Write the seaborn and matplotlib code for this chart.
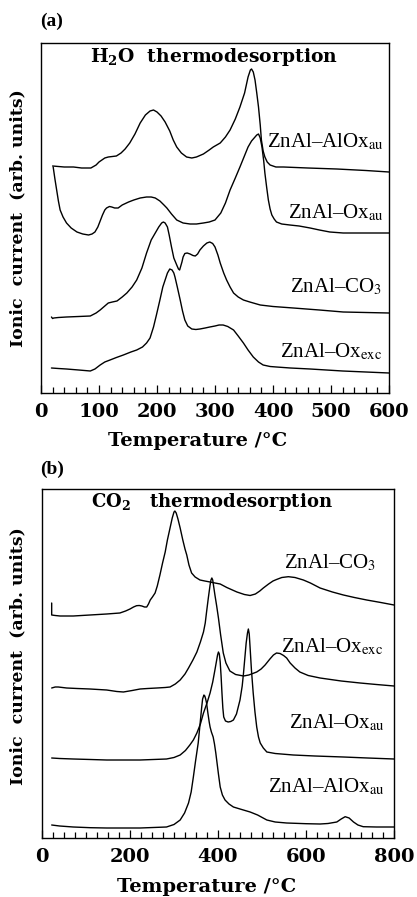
import numpy as np
import pandas as pd
import matplotlib
matplotlib.use("Agg")
import matplotlib.pyplot as plt
import seaborn as sns
from matplotlib.ticker import MultipleLocator

# ---------------- Panel (a): H2O thermodesorption ----------------
a_alox_au_T = [20, 40, 56, 70, 86, 95, 100, 105, 110, 116, 123, 130, 138, 145, 153, 162, 171,
               180, 188, 194, 200, 207, 214, 222, 228, 234, 242, 251, 260, 268, 280, 290, 297,
               303, 309, 318, 326, 335, 343, 351, 357, 361, 363, 366, 369, 372, 375, 378, 380,
               383, 386, 390, 395, 405, 418, 460, 510, 560, 600]
a_alox_au_I = [227, 226, 226, 225, 225, 228, 231, 233, 235, 236, 236.5, 237, 240, 244, 250, 259,
               270, 278, 282, 283, 281, 277, 271, 262, 253, 246, 240, 236, 235, 236, 239, 243,
               246, 248, 250, 256, 263, 274, 286, 300, 316, 323, 324, 321, 313, 300, 286, 268,
               253, 242, 236, 231, 228, 226, 226, 225, 224, 222.5, 221]

a_ox_au_T = [21, 24, 27, 30, 33, 38, 44, 52, 62, 72, 82, 88, 93, 98, 102, 106, 110, 113, 118,
             122, 127, 133, 140, 151, 160, 171, 182, 190, 197, 205, 212, 217, 225, 234, 245,
             257, 268, 280, 290, 300, 310, 318, 326, 335, 343, 350, 357, 363, 369, 372, 375,
             378, 381, 384, 386, 389, 392, 395, 398, 402, 406, 415, 429, 445, 464, 480, 498,
             521, 560, 600]
a_ox_au_I = [226, 214, 203, 192, 183, 176, 170, 165, 161, 159, 158, 159, 161, 166, 172, 178,
             183, 185, 186.5, 186, 185, 185, 188, 191, 193, 195, 196, 196, 195, 192, 188, 185,
             179, 173, 170, 169, 169, 170, 171, 173, 180, 190, 203, 215, 226, 236, 246, 252,
             256, 258, 259, 255, 246, 232, 220, 206, 193, 184, 178, 174, 171, 169, 168, 167,
             165, 163, 161, 160, 160, 160]

a_co3_T = [18, 20, 22, 30, 44, 65, 85, 95, 102, 110, 116, 123, 131, 140, 148, 157, 165, 174,
           182, 190, 197, 203, 208, 211, 214, 218, 221, 225, 229, 234, 237, 239, 241, 243,
           245, 248, 252, 257, 262, 266, 270, 274, 280, 286, 291, 296, 300, 305, 309, 315,
           320, 326, 332, 340, 349, 360, 378, 400, 435, 480, 521, 560, 600]
a_co3_I = [76, 74.5, 75, 75.5, 76, 76.5, 77, 80, 83, 87, 90, 91, 92, 96, 100, 106, 113, 125,
           140, 153, 160, 166, 170, 171, 170, 166, 158, 146, 135, 128, 124, 123, 127, 131,
           136, 139.5, 140, 139, 137.5, 137, 139, 143, 147, 150, 151, 149.5, 146, 138, 130,
           120, 113, 106, 100, 96, 93, 91, 88, 86.5, 85, 83, 81, 80.5, 80]

a_ox_exc_T = [18, 30, 44, 65, 85, 93, 102, 110, 119, 130, 142, 155, 165, 175, 182, 188, 194,
              199, 205, 210, 214, 218, 222, 226, 229, 231, 235, 240, 244, 248, 253, 260, 267,
              274, 283, 291, 300, 307, 314, 322, 332, 340, 349, 357, 366, 375, 383, 395, 406,
              430, 464, 520, 560, 600]
a_ox_exc_I = [25, 24.5, 24, 23, 22, 24, 28, 31, 33, 35.5, 38, 41, 43, 46, 50, 55, 66, 78, 93,
              106, 113, 120, 124, 123, 120, 116, 106, 93, 82, 73, 67, 64, 63.5, 64, 65, 66,
              67, 68, 68, 66.5, 63, 57, 50, 43, 36, 31, 28, 26.5, 26, 25, 24, 22, 21, 20]

# ---------------- Panel (b): CO2 thermodesorption ----------------
b_co3_T = [22, 22, 30, 41, 71, 109, 147, 177, 190, 200, 208, 215, 221, 227, 233, 238, 242,
           246, 251, 257, 262, 268, 274, 280, 285, 291, 296, 300, 302, 305, 309, 314, 320,
           325, 329, 334, 340, 348, 359, 370, 382, 393, 405, 420, 443, 460, 473, 485, 495,
           503, 515, 525, 533, 545, 560, 575, 594, 610, 632, 660, 685, 710, 738, 770, 800]
b_co3_I = [235, 223, 222.5, 222, 222, 223, 224, 225, 227, 229, 231, 232.3, 232.5, 232, 231,
           231, 234, 238, 241, 245, 252, 263, 275, 286, 298, 310, 320, 326, 327, 325, 319,
           310, 298, 289, 283, 273, 265, 261, 258, 257, 256, 255, 254, 250.5, 246, 243.5,
           242.5, 244, 247, 250, 254, 257, 258.5, 260.5, 261.3, 260.5, 258, 255, 250, 246,
           243, 240.5, 238, 235.5, 233]

b_ox_exc_T = [22, 30, 37, 56, 80, 109, 147, 170, 185, 205, 223, 240, 261, 280, 291, 303, 314,
              325, 333, 343, 352, 360, 367, 371, 374, 378, 382, 384, 386, 388, 390, 393, 397,
              401, 406, 412, 418, 427, 440, 458, 470, 488, 498, 507, 518, 526, 533, 541, 549,
              556, 564, 575, 586, 605, 632, 680, 723, 760, 800]
b_ox_exc_I = [150, 151, 151, 150, 149.5, 149, 148, 146.5, 146, 147.5, 149, 149.5, 150, 150.5,
              151, 154, 158, 164, 170, 178, 186, 196, 206, 215, 226, 240, 253, 258, 260, 258,
              252, 243, 232, 220, 203, 185, 175, 167, 163.5, 162, 163, 166, 169, 173, 179,
              183, 185, 184.5, 182.5, 180, 175, 170, 166, 162.5, 160, 157, 155, 153.5, 152]

b_ox_au_T = [22, 40, 71, 110, 147, 223, 283, 300, 314, 326, 336, 344, 352, 360, 367, 375, 382,
             388, 393, 397, 399, 401, 403, 405, 407, 409, 411, 413, 417, 423, 429, 435, 442,
             450, 455, 458, 461, 464, 467, 469, 471, 473, 476, 480, 484, 488, 492, 496, 503,
             511, 530, 571, 620, 685, 740, 800]
b_ox_au_I = [80, 79.5, 79, 78.5, 78, 78, 79, 80.5, 83, 87.5, 93, 98, 105, 114, 125, 135, 145,
             156, 168, 178, 183, 186, 184, 176, 162, 145, 130, 121, 117, 116, 116.5, 118, 124,
             138, 152, 165, 180, 195, 205, 209, 204, 190, 168, 145, 126, 111, 101, 95, 90, 86,
             84.5, 83, 82, 81, 80, 79]

b_alox_au_T = [22, 40, 71, 110, 147, 223, 283, 300, 314, 324, 333, 339, 344, 349, 355, 359,
               363, 365, 368, 370, 372, 374, 377, 380, 382, 385, 389, 392, 395, 397, 401, 405,
               410, 416, 425, 435, 450, 473, 490, 511, 530, 556, 600, 632, 650, 670, 680, 689,
               698, 708, 718, 730, 760, 800]
b_alox_au_I = [13, 12, 11, 10.3, 10, 10, 11, 13.5, 18, 25, 35, 46, 61, 77, 95, 113, 131, 139,
               143, 142, 139, 135, 125, 116, 111, 106, 101, 94, 85, 78, 64, 51, 43, 38, 34, 31,
               29, 26, 23, 18, 16, 15, 14.3, 14, 14.5, 16, 19, 21.3, 20, 16, 13, 11.3, 11, 11]

a_names = ["ZnAl–AlOx_au", "ZnAl–Ox_au", "ZnAl–CO3", "ZnAl–Ox_exc"]
b_names = ["ZnAl–CO3", "ZnAl–Ox_exc", "ZnAl–Ox_au", "ZnAl–AlOx_au"]


def build(names, Ts, Is):
    frames = []
    for n, t, i in zip(names, Ts, Is):
        frames.append(pd.DataFrame({"T": t, "I": i, "sample": n}))
    return pd.concat(frames, ignore_index=True)


df_a = build(a_names, [a_alox_au_T, a_ox_au_T, a_co3_T, a_ox_exc_T],
             [a_alox_au_I, a_ox_au_I, a_co3_I, a_ox_exc_I])
df_b = build(b_names, [b_co3_T, b_ox_exc_T, b_ox_au_T, b_alox_au_T],
             [b_co3_I, b_ox_exc_I, b_ox_au_I, b_alox_au_I])

sns.set_theme(style="white")
plt.rcParams["font.family"] = ["DejaVu Serif", "DejaVu Sans"]
plt.rcParams["text.color"] = "black"
plt.rcParams["axes.labelcolor"] = "black"
plt.rcParams["xtick.color"] = "black"
plt.rcParams["ytick.color"] = "black"

fig = plt.figure(figsize=(4.17, 8.97), dpi=100)
ax_a = fig.add_axes([41 / 417, 1 - 393 / 897, 348 / 417, 350 / 897])
ax_b = fig.add_axes([42 / 417, 1 - 838 / 897, 352 / 417, 349 / 897])

label_kw = dict(fontfamily="Liberation Serif", math_fontfamily="stix", fontsize=15,
                ha="right", va="baseline", color="black")


def style_axis(ax, xmax, major, minor, ymax):
    ax.set_xlim(0, xmax)
    ax.set_ylim(0, ymax)
    ax.xaxis.set_major_locator(MultipleLocator(major))
    ax.xaxis.set_minor_locator(MultipleLocator(minor))
    ax.set_yticks([])
    ax.tick_params(axis="x", which="both", direction="in", bottom=True, top=False,
                   color="black", width=0.9)
    ax.tick_params(axis="x", which="major", length=6, pad=7, labelsize=14,
                   labelcolor="black")
    ax.tick_params(axis="x", which="minor", length=4)
    for lab in ax.get_xticklabels():
        lab.set_fontweight("bold")
    for s in ax.spines.values():
        s.set_color("black")
        s.set_linewidth(1.0)
    ax.set_xlabel("Temperature /°C", fontsize=14, fontweight="bold", color="black")
    ax.set_ylabel("Ionic  current  (arb. units)", fontsize=12.5, fontweight="bold",
                  color="black")
    ax.grid(False)


# Panel a
sns.lineplot(data=df_a, x="T", y="I", hue="sample", units="sample", estimator=None,
             sort=False, palette={n: "black" for n in a_names}, linewidth=1.0,
             legend=False, ax=ax_a)
style_axis(ax_a, 600, 100, 20, 350)
ax_a.xaxis.set_label_coords((197.5 - 41) / 348, -48 / 350)
ax_a.xaxis.label.set_va("center")
ax_a.yaxis.set_label_coords(-23 / 348, 0.5)
ax_a.yaxis.label.set_va("center")

ax_a.text(298, 331, r"H$_{\mathbf{2}}$O  thermodesorption", fontsize=13.5,
          fontweight="bold", ha="center", va="baseline", math_fontfamily="dejavuserif")
ax_a.text(591, 246, r"ZnAl–AlOx$_{\mathrm{au}}$", **label_kw)
ax_a.text(591, 175, r"ZnAl–Ox$_{\mathrm{au}}$", **label_kw)
ax_a.text(588, 101, r"ZnAl–CO$_{3}$", **label_kw)
ax_a.text(588, 36, r"ZnAl–Ox$_{\mathrm{exc}}$", **label_kw)

# Panel b
sns.lineplot(data=df_b, x="T", y="I", hue="sample", units="sample", estimator=None,
             sort=False, palette={n: "black" for n in b_names}, linewidth=1.0,
             legend=False, ax=ax_b)
style_axis(ax_b, 800, 200, 25, 349)
ax_b.xaxis.set_label_coords((207 - 42) / 352, -49 / 349)
ax_b.xaxis.label.set_va("center")
ax_b.yaxis.set_label_coords(-24 / 352, 0.52)
ax_b.yaxis.label.set_va("center")

ax_b.text(385, 331, r"CO$_{\mathbf{2}}$   thermodesorption", fontsize=13,
          fontweight="bold", ha="center", va="baseline", math_fontfamily="dejavuserif")
ax_b.text(760, 270, r"ZnAl–CO$_{3}$", **label_kw)
ax_b.text(775, 186, r"ZnAl–Ox$_{\mathrm{exc}}$", **label_kw)
ax_b.text(779, 110, r"ZnAl–Ox$_{\mathrm{au}}$", **label_kw)
ax_b.text(779, 46, r"ZnAl–AlOx$_{\mathrm{au}}$", **label_kw)

fig.text(40 / 417, 1 - 21 / 897, "(a)", fontsize=14, fontweight="bold",
         fontfamily="Liberation Serif", ha="left", va="center")
fig.text(40 / 417, 1 - 469 / 897, "(b)", fontsize=14, fontweight="bold",
         fontfamily="Liberation Serif", ha="left", va="center")

fig.savefig("out.png", dpi=100)
